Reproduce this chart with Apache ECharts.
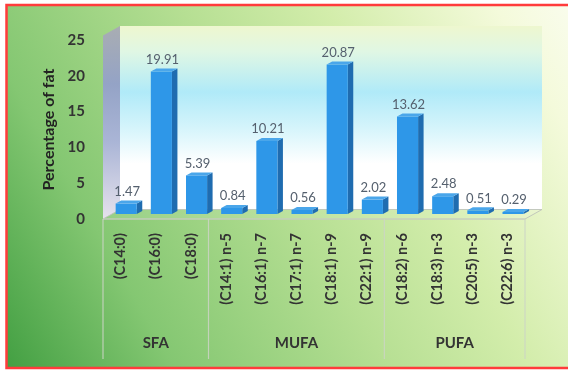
<!DOCTYPE html>
<html>
<head>
<meta charset="utf-8">
<title>Fatty acid composition</title>
<script src="https://cdn.jsdelivr.net/npm/echarts@6/dist/echarts.min.js"></script>
<style>
  html, body { margin: 0; padding: 0; background: #ffffff; }
  #chart { width: 568px; height: 371px; }
</style>
</head>
<body>
<div id="chart"></div>
<script>
// Fatty acids and their share of total fat (%)
const categories = [
  '(C14:0)', '(C16:0)', '(C18:0)',
  '(C14:1) n-5', '(C16:1) n-7', '(C17:1) n-7', '(C18:1) n-9', '(C22:1) n-9',
  '(C18:2) n-6', '(C18:3) n-3', '(C20:5) n-3', '(C22:6) n-3'
];
const values = [1.47, 19.91, 5.39, 0.84, 10.21, 0.56, 20.87, 2.02, 13.62, 2.48, 0.51, 0.29];

// Class groups along the category axis
const groupNames = ['SFA', 'MUFA', 'PUFA'];
const groupSizes = [3, 5, 4];

// Value axis
const yMin = 0, yMax = 25, yStep = 5;
const yTitle = 'Percentage of fat';

const FONT = 'Lato, "Open Sans", sans-serif';

// depth of the pseudo-3D box
const DX = 17, DY = -9.5;

function renderFrame(params, api) {
  const cs = params.coordSys;
  const x0 = cs.x, x1 = cs.x + cs.width;
  const yTop = cs.y, y0 = cs.y + cs.height;
  const children = [];

  // back wall
  children.push({
    type: 'rect',
    shape: { x: x0 + DX, y: yTop - 14, width: x1 - x0, height: (y0 + DY) - (yTop - 14) },
    style: {
      fill: new echarts.graphic.LinearGradient(0, 0, 0, 1, [
        { offset: 0, color: '#eef7cf' },
        { offset: 0.14, color: '#e0f7e4' },
        { offset: 0.36, color: '#b0eaf8' },
        { offset: 0.55, color: '#d4f4fb' },
        { offset: 0.75, color: '#ffffff' },
        { offset: 1, color: '#ffffff' }
      ])
    }
  });
  // side wall
  children.push({
    type: 'polygon',
    shape: { points: [[x0, yTop - 4.5], [x0 + DX, yTop - 14], [x0 + DX, y0 + DY], [x0, y0]] },
    style: {
      fill: new echarts.graphic.LinearGradient(0, 0, 0, 1, [
        { offset: 0, color: '#a9adb2' },
        { offset: 0.3, color: '#94a3c6' },
        { offset: 0.6, color: '#aab5d6' },
        { offset: 1, color: '#e6e2ec' }
      ])
    }
  });
  // floor
  children.push({
    type: 'polygon',
    shape: { points: [[x0, y0], [x1, y0], [x1 + DX, y0 + DY], [x0 + DX, y0 + DY]] },
    style: { fill: 'rgba(255,255,255,0.12)', stroke: 'rgba(190,195,185,0.9)', lineWidth: 1 }
  });

  // category table below the floor
  const lineStyle = { stroke: 'rgba(205,212,198,0.85)', lineWidth: 1.2 };
  children.push({ type: 'line', shape: { x1: x0, y1: y0, x2: x1, y2: y0 }, style: lineStyle });
  const total = categories.length;
  let acc = 0;
  const bounds = [0];
  groupSizes.forEach(function (s) { acc += s; bounds.push(acc); });
  bounds.forEach(function (b) {
    const x = x0 + cs.width * b / total;
    children.push({ type: 'line', shape: { x1: x, y1: y0, x2: x, y2: y0 + 140 }, style: lineStyle });
  });
  groupNames.forEach(function (name, g) {
    const mid = (bounds[g] + bounds[g + 1]) / 2;
    children.push({
      type: 'text',
      x: x0 + cs.width * mid / total,
      y: y0 + 124,
      style: {
        text: name, fill: '#333333', font: 'bold 15px ' + FONT,
        align: 'center', verticalAlign: 'middle'
      }
    });
  });
  return { type: 'group', children: children };
}

function renderBar(params, api) {
  const i = api.value(0), v = api.value(1);
  const base = api.coord([i, 0]);
  const top = api.coord([i, v]);
  const band = api.size([1, 0])[0];
  const w = band * 0.6;
  const cx = base[0] + band * 0.16;
  const xl = cx - w / 2, xr = cx + w / 2;
  const yb = base[1] - 5, yt = top[1] - 5;
  const dx = 5.5, dy = 3;
  return {
    type: 'group',
    children: [
      { type: 'polygon', shape: { points: [[xr, yt], [xr + dx, yt - dy], [xr + dx, yb - dy], [xr, yb]] },
        style: { fill: '#1f6cb0' } },
      { type: 'rect', shape: { x: xl, y: yt, width: w, height: yb - yt },
        style: { fill: '#2e97e8' } },
      { type: 'polygon', shape: { points: [[xl, yt], [xr, yt], [xr + dx, yt - dy], [xl + dx, yt - dy]] },
        style: { fill: '#4aa6ea' } },
      { type: 'text', x: cx + 1, y: yt - 5.5,
        style: { text: v.toFixed(2), fill: '#55606e', font: '13px ' + FONT,
                 align: 'center', verticalAlign: 'bottom' } }
    ]
  };
}

const chart = echarts.init(document.getElementById('chart'), null, { renderer: 'canvas' });
chart.setOption({
  animation: false,
  backgroundColor: '#ffffff',
  graphic: [{
    type: 'rect',
    z: -10,
    shape: { x: 6.5, y: 5, width: 640, height: 363 },
    style: {
      fill: new echarts.graphic.LinearGradient(0, 1, 1, 0, [
        { offset: 0, color: '#429f42' },
        { offset: 0.2, color: '#84c772' },
        { offset: 0.45, color: '#b6df93' },
        { offset: 0.62, color: '#d3edab' },
        { offset: 0.82, color: '#f4fadb' },
        { offset: 1, color: '#ffffff' }
      ]),
      stroke: '#ff3b3b',
      lineWidth: 2.5
    }
  }],
  grid: { left: 103, right: 43, top: 40, bottom: 152, containLabel: false },
  xAxis: {
    type: 'category',
    data: categories,
    axisLine: { show: false },
    axisTick: { show: false },
    axisLabel: {
      rotate: 90, margin: 14, interval: 0,
      color: '#333333', fontSize: 14.5, fontWeight: 'bold', fontFamily: FONT
    }
  },
  yAxis: {
    type: 'value',
    min: yMin, max: yMax, interval: yStep,
    name: yTitle,
    nameLocation: 'middle',
    nameRotate: 90,
    nameGap: 46,
    nameTextStyle: { color: '#222222', fontSize: 16, fontWeight: 'bold', fontFamily: FONT },
    axisLine: { show: false },
    axisTick: { show: false },
    splitLine: { show: false },
    axisLabel: { margin: 18, color: '#333333', fontSize: 15, fontWeight: 'bold', fontFamily: FONT }
  },
  series: [
    {
      type: 'custom',
      name: 'frame',
      z: 1,
      silent: true,
      renderItem: renderFrame,
      data: [[0, 0]]
    },
    {
      type: 'custom',
      name: 'Percentage of fat',
      z: 5,
      renderItem: renderBar,
      encode: { x: 0, y: 1 },
      data: values.map(function (v, i) { return [i, v]; })
    }
  ]
});
</script>
</body>
</html>
